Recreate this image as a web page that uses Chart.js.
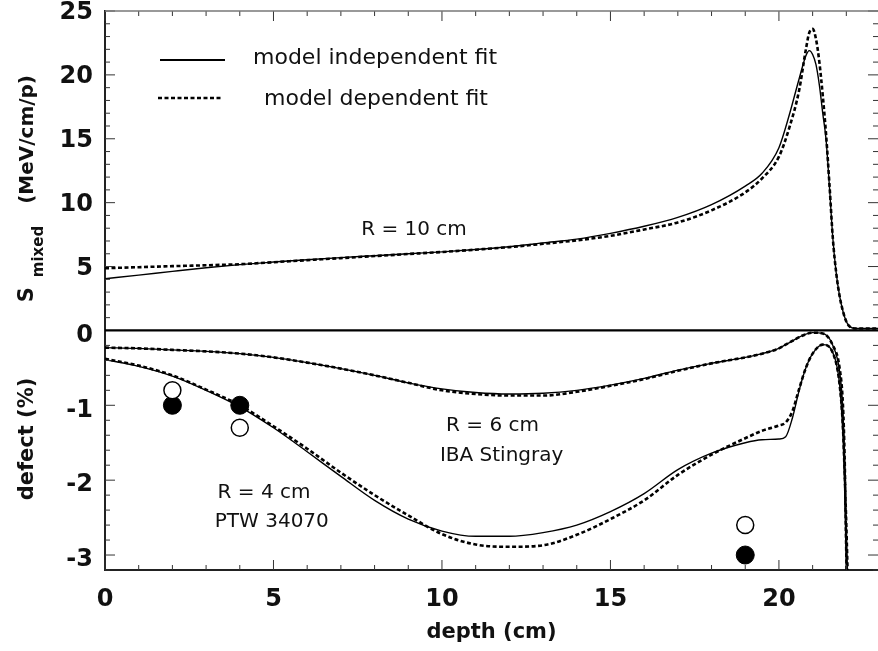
<!DOCTYPE html>
<html>
<head>
<meta charset="utf-8">
<script src="https://cdn.jsdelivr.net/npm/chart.js@4.4.0/dist/chart.umd.min.js"></script>
<style>
  html, body { margin: 0; padding: 0; background: #fff; }
</style>
</head>
<body>
<canvas id="myChart" width="878" height="651"></canvas>
<script>
// Stopping power, R = 10 cm (top panel)
const depthTop = [0,1,2,3,4,5,6,7,8,9,10,11,12,13,14,15,16,17,18,19,
  19.5,20,20.3,20.6,20.8,20.9,21.0,21.1,21.2,21.3,21.4,21.5,21.6,21.7,21.8,21.9,22.0,22.1,22.3,23];
const sIndep = [4.05,4.33,4.62,4.9,5.15,5.35,5.53,5.7,5.85,6.0,6.15,6.33,6.55,6.85,7.15,7.6,8.15,8.85,9.85,11.3,
  12.3,14.3,16.8,19.7,21.5,21.9,21.6,20.8,19.2,17.0,14.9,11.2,7.2,4.5,2.7,1.5,0.7,0.3,0.15,0.15];
const sDep = [4.87,4.95,5.03,5.1,5.18,5.34,5.5,5.66,5.82,5.98,6.14,6.32,6.52,6.78,7.05,7.4,7.9,8.45,9.4,10.8,
  11.9,13.6,15.8,18.8,22.0,23.3,23.6,22.8,21.0,18.4,15.3,11.4,7.2,4.5,2.7,1.5,0.7,0.3,0.15,0.15];

// Defect (bottom panel)
const depthDef = [0,1,2,3,4,5,6,7,8,9,10,11,12,13,14,15,16,17,18,19,
  19.5,20,20.2,20.4,20.6,20.8,21.0,21.3,21.6,21.8,21.9,21.95,22.0,22.05,22.1];
const r6Indep = [-0.23,-0.24,-0.26,-0.28,-0.31,-0.36,-0.43,-0.51,-0.6,-0.7,-0.78,-0.83,-0.85,-0.84,-0.8,-0.73,-0.64,-0.53,-0.44,-0.36,
  -0.31,-0.24,-0.19,-0.14,-0.09,-0.05,-0.03,-0.04,-0.2,-0.55,-1.1,-1.9,-3.3,-4,-4];
const r6Dep = [-0.23,-0.24,-0.26,-0.28,-0.31,-0.36,-0.43,-0.51,-0.6,-0.7,-0.8,-0.85,-0.87,-0.87,-0.82,-0.74,-0.65,-0.54,-0.44,-0.36,
  -0.31,-0.24,-0.19,-0.14,-0.09,-0.05,-0.03,-0.04,-0.2,-0.5,-1.0,-1.7,-3.0,-4,-4];
const r4Indep = [-0.39,-0.48,-0.61,-0.8,-1.02,-1.3,-1.62,-1.95,-2.27,-2.52,-2.68,-2.75,-2.75,-2.7,-2.6,-2.42,-2.18,-1.86,-1.64,-1.5,
  -1.46,-1.45,-1.42,-1.17,-0.8,-0.5,-0.31,-0.19,-0.3,-0.72,-1.4,-2.0,-2.8,-3.5,-4];
const r4Dep = [-0.38,-0.47,-0.6,-0.79,-1.0,-1.28,-1.58,-1.9,-2.2,-2.47,-2.72,-2.86,-2.89,-2.87,-2.73,-2.52,-2.27,-1.93,-1.66,-1.44,
  -1.34,-1.27,-1.23,-1.08,-0.78,-0.5,-0.31,-0.19,-0.3,-0.72,-1.3,-1.9,-2.6,-3.4,-4];

// measured points
const ptDepth = [2, 4, 19];
const ptOpen = [-0.8, -1.3, -2.6];
const ptFilled = [-1.0, -1.0, -3.0];

const xTicks = [0, 5, 10, 15, 20];
const sTicks = [5, 10, 15, 20, 25];
const defTicks = [0, -1, -2, -3];

const pts = (xs, ys) => xs.map((x, i) => ({ x: x, y: ys[i] }));

const solid = { borderColor: '#000', borderWidth: 1.4, pointRadius: 0, showLine: true, fill: false, cubicInterpolationMode: 'monotone' };
const dashed = { ...solid, borderWidth: 2.6, borderDash: [4, 2.5] };

Chart.defaults.font.family = 'DejaVu Sans';
Chart.defaults.color = '#111';

const tickFont = { family: 'DejaVu Sans', size: 24, weight: 'bold' };

// inward ticks, frame, zero line, legend and labels
const decor = {
  id: 'decor',
  afterDatasetsDraw(chart) {
    const { ctx, chartArea: a, scales } = chart;
    const x = scales.x, yS = scales.yS, yD = scales.yD;
    ctx.save();
    ctx.strokeStyle = '#333';
    ctx.lineWidth = 1;
    const tick = (x1, y1, x2, y2) => { ctx.beginPath(); ctx.moveTo(x1, y1); ctx.lineTo(x2, y2); ctx.stroke(); };
    // x ticks, bottom and top
    for (let v = 0; v <= 22; v++) {
      const px = x.getPixelForValue(v);
      const len = v % 5 === 0 ? 10 : 5;
      tick(px, a.bottom, px, a.bottom - len);
      tick(px, a.top, px, a.top + len);
    }
    // y ticks, left and right
    for (let v = 1; v <= 25; v++) {
      const py = yS.getPixelForValue(v);
      const len = v % 5 === 0 ? 10 : 5;
      tick(a.left, py, a.left + len, py);
      tick(a.right, py, a.right - len, py);
    }
    for (let k = 1; k <= 16; k++) {
      const v = -k * 0.2;
      const py = yD.getPixelForValue(v);
      const len = k % 5 === 0 ? 10 : 5;
      tick(a.left, py, a.left + len, py);
      tick(a.right, py, a.right - len, py);
    }
    // top frame
    ctx.strokeStyle = '#777';
    ctx.lineWidth = 1.5;
    tick(a.left, a.top, a.right, a.top);
    // zero line between panels
    ctx.strokeStyle = '#000';
    ctx.lineWidth = 2.2;
    const y0 = yD.getPixelForValue(0);
    tick(a.left, y0, a.right, y0);

    // legend
    ctx.lineWidth = 2.2;
    tick(a.left + 55, a.top + 49, a.left + 120, a.top + 49);
    ctx.setLineDash([4, 2.5]);
    ctx.lineWidth = 2.6;
    tick(a.left + 53, a.top + 87, a.left + 117, a.top + 87);
    ctx.setLineDash([]);
    ctx.fillStyle = '#111';
    ctx.font = '22px "DejaVu Sans"';
    ctx.textAlign = 'left';
    ctx.textBaseline = 'middle';
    ctx.fillText('model independent fit', a.left + 148, a.top + 47);
    ctx.fillText('model dependent fit', a.left + 159, a.top + 88);

    // curve labels
    ctx.font = '20px "DejaVu Sans"';
    ctx.textAlign = 'center';
    const label = (t, xv, yv, sc) => ctx.fillText(t, x.getPixelForValue(xv), sc.getPixelForValue(yv));
    label('R = 10 cm', 9.17, 7.85, yS);
    label('R = 6 cm', 11.5, -1.27, yD);
    label('IBA Stingray', 11.77, -1.67, yD);
    label('R = 4 cm', 4.72, -2.17, yD);
    label('PTW 34070', 4.95, -2.56, yD);

    ctx.restore();
  },
  afterDraw(chart) {
    const { ctx, scales } = chart;
    const yS = scales.yS, yD = scales.yD;
    ctx.save();
    ctx.fillStyle = '#111';
    ctx.textBaseline = 'alphabetic';
    // S_mixed (MeV/cm/p)
    ctx.translate(33, yS.getPixelForValue(2.2));
    ctx.rotate(-Math.PI / 2);
    ctx.textAlign = 'left';
    ctx.font = 'bold 21px "DejaVu Sans"';
    ctx.fillText('S', 0, 0);
    let off = ctx.measureText('S').width + 10;
    ctx.font = 'bold 15px "DejaVu Sans"';
    ctx.fillText('mixed', off, 10);
    off += ctx.measureText('mixed').width + 22;
    ctx.font = 'bold 20px "DejaVu Sans"';
    ctx.fillText('(MeV/cm/p)', off, 0);
    ctx.restore();

    ctx.save();
    ctx.fillStyle = '#111';
    ctx.translate(33, yD.getPixelForValue(-1.45));
    ctx.rotate(-Math.PI / 2);
    ctx.textAlign = 'center';
    ctx.textBaseline = 'alphabetic';
    ctx.font = 'bold 21px "DejaVu Sans"';
    ctx.fillText('defect (%)', 0, 0);
    ctx.restore();
  }
};

const fitY = s => { s.width = 105; s.paddingTop = 0; s.paddingBottom = 0; };

new Chart(document.getElementById('myChart'), {
  type: 'scatter',
  data: {
    datasets: [
      { label: 'model independent fit', data: pts(depthTop, sIndep), yAxisID: 'yS', ...solid },
      { label: 'model dependent fit', data: pts(depthTop, sDep), yAxisID: 'yS', ...dashed },
      { label: 'R6 indep', data: pts(depthDef, r6Indep), yAxisID: 'yD', ...solid },
      { label: 'R6 dep', data: pts(depthDef, r6Dep), yAxisID: 'yD', ...dashed },
      { label: 'R4 indep', data: pts(depthDef, r4Indep), yAxisID: 'yD', ...solid },
      { label: 'R4 dep', data: pts(depthDef, r4Dep), yAxisID: 'yD', ...dashed },
      { label: 'open', data: pts(ptDepth, ptOpen), yAxisID: 'yD', showLine: false,
        pointRadius: 8.5, pointBackgroundColor: '#fff', pointBorderColor: '#000', pointBorderWidth: 1.5 },
      { label: 'filled', data: pts(ptDepth, ptFilled), yAxisID: 'yD', showLine: false,
        pointRadius: 9, pointBackgroundColor: '#000', pointBorderColor: '#000', pointBorderWidth: 1 }
    ]
  },
  options: {
    responsive: false,
    animation: false,
    layout: { autoPadding: false, padding: { top: 11, right: 0, bottom: 0, left: 0 } },
    plugins: { legend: { display: false }, tooltip: { enabled: false } },
    scales: {
      x: {
        type: 'linear', position: 'bottom', min: 0, max: 22.94,
        grid: { display: false, drawTicks: false },
        border: { color: '#222', width: 2 },
        afterBuildTicks: s => { s.ticks = xTicks.map(v => ({ value: v })); },
        afterFit: s => { s.height = 81; s.paddingLeft = 0; s.paddingRight = 0; },
        ticks: { font: tickFont, color: '#111', padding: 15, maxRotation: 0 },
        title: { display: true, text: 'depth (cm)', color: '#111',
          font: { family: 'DejaVu Sans', size: 21, weight: 'bold' }, padding: { top: 0, bottom: 6 } }
      },
      yD: {
        type: 'linear', position: 'left', stack: 'panels', stackWeight: 3, min: -3.2, max: 0,
        grid: { display: false, drawTicks: false },
        border: { color: '#222', width: 2 },
        afterBuildTicks: s => { s.ticks = defTicks.map(v => ({ value: v })); },
        afterFit: fitY,
        ticks: { font: tickFont, color: '#111', padding: 12, labelOffset: 5 }
      },
      yS: {
        type: 'linear', position: 'left', stack: 'panels', stackWeight: 4, min: 0, max: 25,
        grid: { display: false, drawTicks: false },
        border: { color: '#222', width: 2 },
        afterBuildTicks: s => { s.ticks = sTicks.map(v => ({ value: v })); },
        afterFit: fitY,
        ticks: { font: tickFont, color: '#111', padding: 12, labelOffset: 2 }
      }
    }
  },
  plugins: [decor]
});
</script>
</body>
</html>
